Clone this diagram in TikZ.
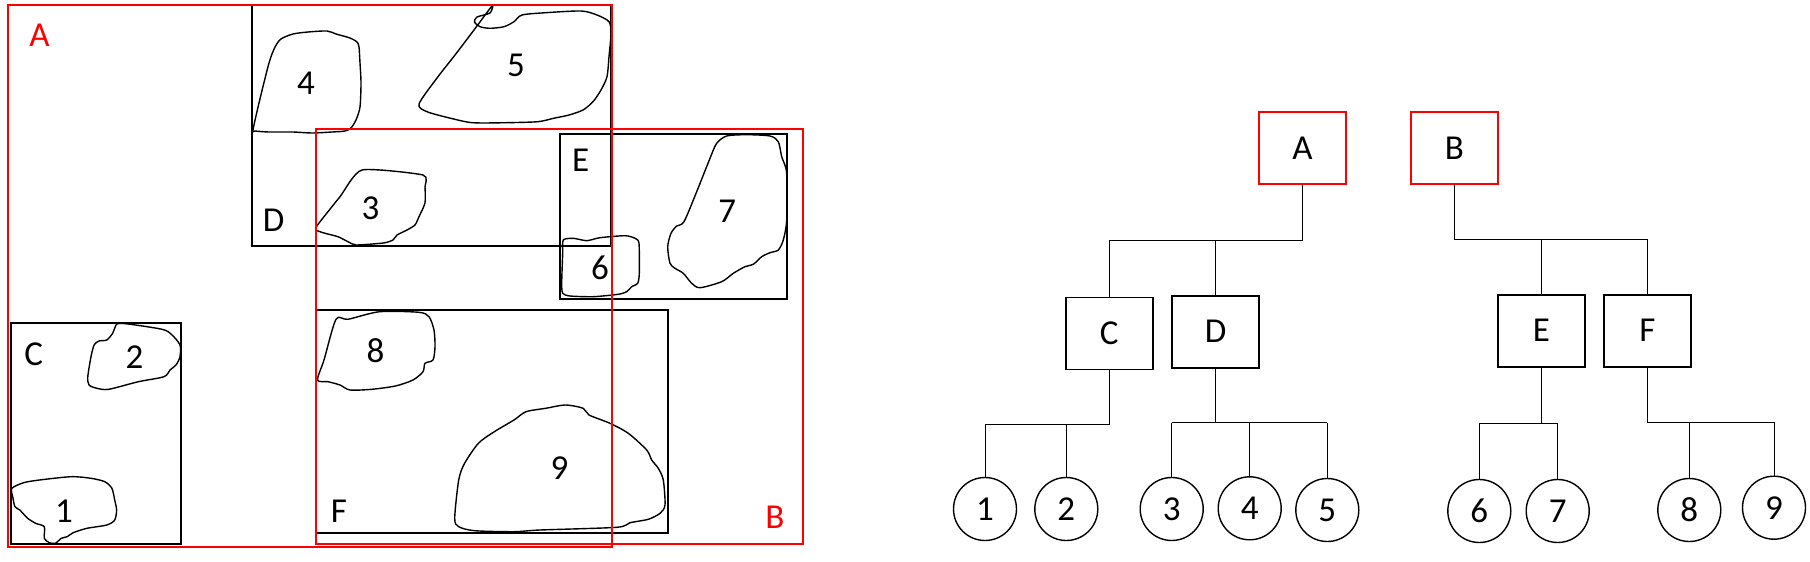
\documentclass[tikz,border=0pt]{standalone}
\usepackage{fontspec}
\setmainfont{Carlito}
\begin{document}
\begin{tikzpicture}[x=1pt,y=-1pt,
  lbl/.style={font=\fontsize{35}{40}\selectfont, inner sep=0pt},
  redlbl/.style={lbl, text=red},
  region/.style={draw=black, line width=1.5pt},
  redregion/.style={draw=red, line width=1.7pt},
  blob/.style={draw=black, line width=1.4pt, line join=round},
  treebox/.style={draw=black, line width=1.6pt, minimum width=87pt, minimum height=72pt, inner sep=0pt, font=\fontsize{35}{40}\selectfont},
  rootbox/.style={treebox, draw=red},
  leaf/.style={circle, draw=black, line width=1.4pt, minimum size=63pt, inner sep=0pt, font=\fontsize{35}{40}\selectfont},
  link/.style={draw=black, line width=1pt}
]
\useasboundingbox (0,0) rectangle (1810,562);
\fill[white] (0,0) rectangle (1810,562);

% ---------- left panel: regions ----------
\draw[region] (252,5) rectangle (611,246);   % D
\draw[region] (560,134) rectangle (787,299); % E
\draw[region] (316,310) rectangle (668,533); % F
\draw[region] (11,323) rectangle (181,544);  % C

% ---------- blobs ----------
% 4
\draw[blob] plot[smooth cycle, tension=0.45] coordinates {
 (253,130) (259,103) (269,63) (275,47) (281,39) (293,34) (308,32) (327,31)
 (336,34) (350,38) (357,42) (359,47) (360,63) (361,83) (360,107) (356,120)
 (351,128) (345,131) (332,132) (312,133) (293,132) (269,132) (255,131)};
% 5
\draw[blob] plot[smooth cycle, tension=0.45] coordinates {
 (492,6) (490,13) (477,17) (474.5,22) (480,26.7) (490,28.3) (504,26.7) (514,21.7)
 (522,15) (545.7,12.7) (581.3,11) (597,15) (609,21.7) (611,33.3) (609,56.7)
 (607,76.7) (601,90) (593,101.7) (583,110) (569,115) (553.6,118.3) (537.8,121.7)
 (506,122.7) (472.5,122.7) (450.8,118.3) (427,111.7) (419,104) (437,78) (455,55) (474,30)};
% 3
\draw[blob] plot[smooth cycle, tension=0.35] coordinates {
 (362,170) (423,175) (425,187) (425,203) (419,216.7) (415,225) (407,230)
 (397,235) (393,240) (383.5,243) (356,245) (348,241.7) (338,236.7) (324,233)
 (316,230) (317.5,225) (340,196.7)};
% 6
\draw[blob] plot[smooth cycle, tension=0.4] coordinates {
 (563.3,240) (573.3,238.3) (586.7,240.7) (600,237.7) (625,235.7) (635,238.3)
 (639,243.3) (639.3,273.3) (637.7,283.3) (631.7,286.7) (626.7,291.7) (618.3,294.3)
 (593.3,296.7) (570,296) (562.7,293.3) (561.7,283.3) (562.7,253.3)};
% 7
\draw[blob] plot[smooth cycle, tension=0.45] coordinates {
 (716.7,143.3) (726.7,136) (746.7,134.7) (770,136) (778.3,141.7) (781.7,156.7)
 (786.7,173.3) (786.7,220) (783.3,240) (778.3,250) (770,252.7) (761.7,256.7)
 (753.3,264.3) (745,266.7) (733.3,273.3) (721.7,281.7) (700,287.7) (691.7,283.3)
 (683.3,273.3) (675,268.3) (670,263.3) (667.7,246.7) (671,233.3) (676.7,226)
 (684,221.7) (696.7,191.7) (710,158.3)};
% 1
\draw[blob] plot[smooth cycle, tension=0.45] coordinates {
 (11.9,488.3) (23.7,482.7) (39.5,480) (71.2,476.7) (91,478.3) (104.8,481.7)
 (111.9,488.3) (114.7,500) (116.6,510) (114.7,520) (106.8,525) (87,528.3)
 (73.2,532.7) (67.2,536.7) (61.3,538.3) (55.4,543.3) (49.4,542.7) (44.3,538.3)
 (44.3,526.7) (35.6,523.3) (27.7,518.3) (19.8,510) (15,506.7) (12.7,496.7)};
% 2
\draw[blob] plot[smooth cycle, tension=0.45] coordinates {
 (120.6,323.3) (162.1,329.3) (172,335) (180,345) (180,356.7) (176,365) (170,370)
 (164,376.7) (138.4,381.7) (108.7,389.3) (96.9,388.3) (89,385) (87.8,376.7)
 (91,356.7) (94.1,345) (98.9,341) (106.8,340) (112.7,333.3) (114.7,328.3)};
% 8
\draw[blob] plot[smooth cycle, tension=0.45] coordinates {
 (336,319.3) (348,319.3) (379.6,311.7) (419,312.3) (429,316.7) (434,330)
 (435,346.7) (433,360) (425,363.3) (423,371.7) (413,380) (395.4,386) (371.7,389.3)
 (350,390) (340,385) (328,381.7) (317.5,380) (324,360)};
% 9
\draw[blob] plot[smooth cycle, tension=0.45] coordinates {
 (454.7,518.3) (458.7,480) (464.6,463.3) (478.4,443.3) (494.3,431.7) (514,420)
 (526,411.7) (545.7,408.3) (565.4,405) (583.2,408.3) (589,415) (610,423.3)
 (628.3,433.3) (646.7,450) (651.7,460) (658.3,468.3) (663.3,480) (665,505)
 (660,513.3) (648.3,519.3) (630,522.7) (616.7,527.3) (540,530) (514,531.7)
 (474.5,530.7) (458.7,526.7)};

% ---------- red regions ----------
\draw[redregion] (8,5) rectangle (612,547);   % A
\draw[redregion] (316,129) rectangle (803,544); % B

% ---------- labels ----------
\node[redlbl] (lA) at (39.5,35) {A};
\node[redlbl] (lB) at (775,517) {B};
\node[lbl] (lC) at (33.6,354) {C};
\node[lbl] (lD) at (273.6,220) {D};
\node[lbl] (lE) at (580.7,160) {E};
\node[lbl] (lF) at (339,511) {F};
\node[lbl] (n1) at (64,511.7) {1};
\node[lbl] (n2) at (134.4,356.7) {2};
\node[lbl] (n3) at (370.5,208) {3};
\node[lbl] (n4) at (306,83) {4};
\node[lbl] (n5) at (516,65) {5};
\node[lbl] (n6) at (600,268) {6};
\node[lbl] (n7) at (727.3,211.7) {7};
\node[lbl] (n8) at (375.6,350.7) {8};
\node[lbl] (n9) at (559.5,468.3) {9};

% ---------- right panel: trees ----------
\node[rootbox] (A) at (1302.5,148) {A};
\node[rootbox] (B) at (1454.5,148) {B};
\node[treebox] (C) at (1109.3,333.3) {C};
\node[treebox] (D) at (1215.7,331.7) {D};
\node[treebox] (E) at (1541.5,330.7) {E};
\node[treebox] (F) at (1647.5,330.7) {F};
\node[leaf] (c1) at (985,509) {1};
\node[leaf] (c2) at (1066.3,509) {2};
\node[leaf] (c3) at (1171.7,509) {3};
\node[leaf] (c4) at (1249.7,508.3) {4};
\node[leaf] (c5) at (1327.3,510) {5};
\node[leaf] (c6) at (1479.3,511) {6};
\node[leaf] (c7) at (1557.7,511) {7};
\node[leaf] (c8) at (1689.3,510) {8};
\node[leaf] (c9) at (1774,507.7) {9};

\coordinate (jA) at (1302.5,240.7);
\coordinate (jB) at (1454.5,239.3);
\coordinate (jC) at (1109.3,424);
\coordinate (jD) at (1215.7,422.7);
\coordinate (jE) at (1541.5,423.3);
\coordinate (jF) at (1647.5,422.3);

\draw[link] (A.south) -- (jA) -| (C.north);
\draw[link] (jA -| D.north) -- (D.north);
\draw[link] (B.south) -- (jB) -| (F.north);
\draw[link] (jB -| E.north) -- (E.north);

\draw[link] (C.south) -- (jC) -| (c1.north);
\draw[link] (jC -| c2.north) -- (c2.north);
\draw[link] (D.south) -- (jD);
\draw[link] (jD -| c3.north) -- (jD -| c5.north);
\draw[link] (jD -| c3.north) -- (c3.north);
\draw[link] (jD -| c4.north) -- (c4.north);
\draw[link] (jD -| c5.north) -- (c5.north);
\draw[link] (E.south) -- (jE);
\draw[link] (jE -| c6.north) -- (jE -| c7.north);
\draw[link] (jE -| c6.north) -- (c6.north);
\draw[link] (jE -| c7.north) -- (c7.north);
\draw[link] (F.south) -- (jF) -| (c9.north);
\draw[link] (jF -| c8.north) -- (c8.north);
\end{tikzpicture}
\end{document}
